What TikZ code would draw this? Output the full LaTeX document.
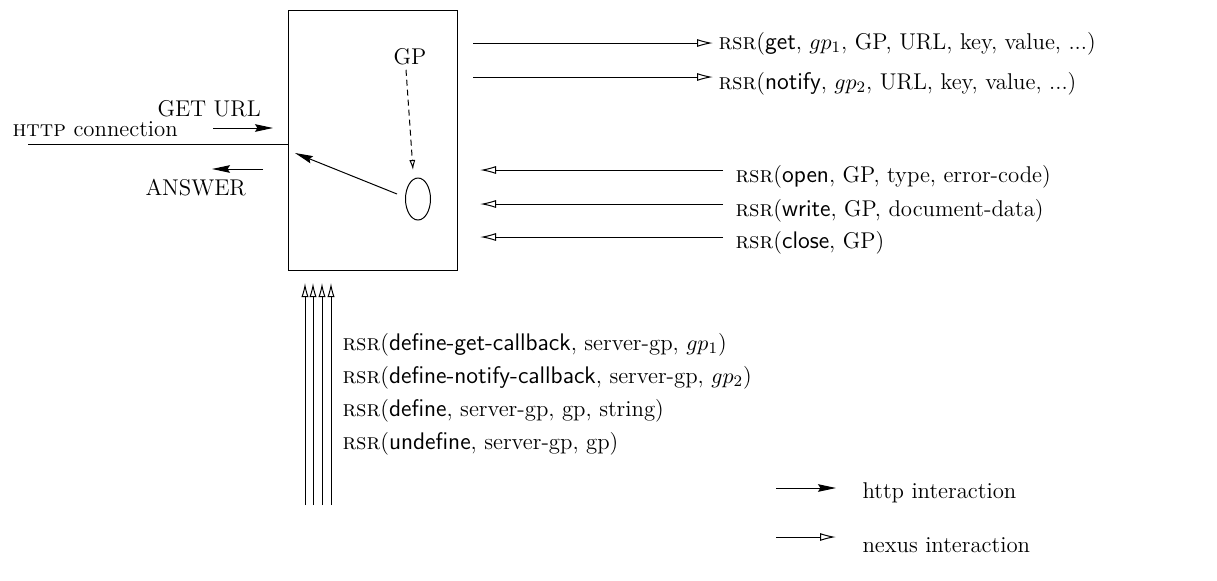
\documentclass[tikz,border=0pt]{standalone}
\usetikzlibrary{arrows.meta,shapes.geometric}
\newcommand{\sfop}[1]{{\fontsize{12}{13}\sffamily #1}}
\begin{document}
\begin{tikzpicture}[x=0.5pt,y=-0.5pt,
  font=\fontsize{11.4}{13}\selectfont,
  line width=0.5pt,
  httparrow/.style={-{Stealth[length=9pt,width=3.8pt,inset=1.2pt]}},
  nexusarrow/.style={-{Latex[open,length=8pt,width=4pt]}},
  vnexus/.style={-{Latex[open,length=7pt,width=3.6pt]}},
  lbl/.style={anchor=west, inner sep=0pt},
  dashedarrow/.style={dash pattern=on 3pt off 2pt, -{Latex[open,length=5pt,width=3pt]}}]
\useasboundingbox (0,0) rectangle (1217,580);

% main box
\node[draw, minimum width=84.5pt, minimum height=130pt, inner sep=0pt] (box) at (372.5,140) {};

% HTTP connection
\coordinate (hc) at (28,144);
\coordinate (hb) at (288,144);
\draw (hc) -- (hb);
\node[lbl] (httplbl) at (12,129) {\textsc{http} connection};
\node[lbl] (getlbl) at (157,109) {GET URL};
\coordinate (g1) at (213,128);
\coordinate (g2) at (273,128);
\draw[httparrow] (g1) -- (g2);
\coordinate (a1) at (263,169);
\coordinate (a2) at (212,169);
\draw[httparrow] (a1) -- (a2);
\node[lbl] (anslbl) at (145,188) {ANSWER};

% inside box
\node[inner sep=1pt] (gp) at (410,57) {GP};
\node[draw, ellipse, minimum width=12.5pt, minimum height=21pt, inner sep=0pt] (ell) at (418,199) {};
\coordinate (dt) at (413,170);
\draw[dashedarrow] (gp.south) ++(-4,2) coordinate (ds) (ds) -- (dt);
\coordinate (es) at (397,194);
\coordinate (et) at (295,153);
\draw[httparrow] (es) -- (et);

% outgoing nexus messages
\coordinate (o1s) at (473,43);
\coordinate (o1t) at (713,43);
\draw[nexusarrow] (o1s) -- (o1t);
\node[lbl] (m1) at (718,44) {\textsc{rsr}(\sfop{get}, $gp_1$, GP, URL, key, value, ...)};
\coordinate (o2s) at (473,77);
\coordinate (o2t) at (713,77);
\draw[nexusarrow] (o2s) -- (o2t);
\node[lbl] (m2) at (718,84) {\textsc{rsr}(\sfop{notify}, $gp_2$, URL, key, value, ...)};

% incoming nexus messages
\coordinate (i1s) at (723,170);
\coordinate (i1t) at (480,170);
\draw[nexusarrow] (i1s) -- (i1t);
\node[lbl] (m3) at (735,177) {\textsc{rsr}(\sfop{open}, GP, type, error-code)};
\coordinate (i2s) at (723,204);
\coordinate (i2t) at (480,204);
\draw[nexusarrow] (i2s) -- (i2t);
\node[lbl] (m4) at (735,211) {\textsc{rsr}(\sfop{write}, GP, document-data)};
\coordinate (i3s) at (723,237);
\coordinate (i3t) at (480,237);
\draw[nexusarrow] (i3s) -- (i3t);
\node[lbl] (m5) at (735,243) {\textsc{rsr}(\sfop{close}, GP)};

% vertical arrows
\foreach \x [count=\i] in {305,313,322,331} {
  \coordinate (v\i s) at (\x,505);
  \coordinate (v\i t) at (\x,283);
  \draw[vnexus] (v\i s) -- (v\i t);
}
\node[lbl] (b1) at (342,345) {\textsc{rsr}(\sfop{define-get-callback}, server-gp, $gp_1$)};
\node[lbl] (b2) at (342,378) {\textsc{rsr}(\sfop{define-notify-callback}, server-gp, $gp_2$)};
\node[lbl] (b3) at (342,411) {\textsc{rsr}(\sfop{define}, server-gp, gp, string)};
\node[lbl] (b4) at (342,444) {\textsc{rsr}(\sfop{undefine}, server-gp, gp)};

% legend
\coordinate (l1s) at (776,488);
\coordinate (l1t) at (836,488);
\draw[httparrow] (l1s) -- (l1t);
\node[lbl] (lh) at (862,493) {http interaction};
\coordinate (l2s) at (776,537);
\coordinate (l2t) at (836,537);
\draw[nexusarrow] (l2s) -- (l2t);
\node[lbl] (ln) at (862,545) {nexus interaction};
\end{tikzpicture}
\end{document}
